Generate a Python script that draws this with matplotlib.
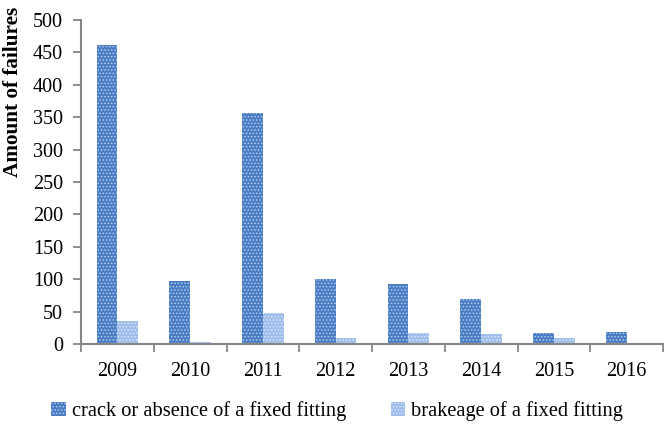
import numpy as np
import matplotlib.pyplot as plt

years = ['2009', '2010', '2011', '2012', '2013', '2014', '2015', '2016']
crack = [462, 97, 357, 100, 93, 69, 17, 19]
brakeage = [35, 3, 48, 10, 17, 16, 10, 2]

plt.rcParams['font.family'] = ['Liberation Serif', 'DejaVu Serif']
plt.rcParams['hatch.linewidth'] = 0.7

fig = plt.figure(figsize=(6.64, 4.25), dpi=100)
ax = fig.add_axes([81 / 664, 81 / 425, 582 / 664, 324 / 425])

x = np.arange(len(years))
w = 0.285
ax.bar(x - w / 2, crack, w, color='#4a7cc4', edgecolor='#b3cbef', linewidth=0,
       hatch='.....', label='crack or absence of a fixed fitting')
ax.bar(x + w / 2, brakeage, w, color='#9dbdeb', edgecolor='#dde8f8', linewidth=0,
       hatch='.....', label='brakeage of a fixed fitting')

ax.set_xlim(-0.5, len(years) - 0.5)
ax.set_ylim(0, 500)
ax.set_yticks(range(0, 501, 50))
ax.set_xticks(np.arange(-0.5, len(years), 1))
ax.set_xticklabels([])
ax.set_xticks(x, minor=True)
ax.set_xticklabels(years, minor=True)
ax.tick_params(axis='x', which='minor', length=0, pad=13, labelsize=14.5)
ax.tick_params(axis='x', which='major', length=6, width=1.3, color='#868686', direction='out')
ax.tick_params(axis='y', length=6, width=1.3, color='#868686', labelsize=14.5, pad=7)

for s in ['top', 'right']:
    ax.spines[s].set_visible(False)
for s in ['left', 'bottom']:
    ax.spines[s].set_color('#868686')
    ax.spines[s].set_linewidth(1.5)

ax.set_ylabel('Amount of failures', fontsize=15.3, fontweight='bold')
ax.yaxis.set_label_coords(-0.10, 0.778)

fig.legend(*ax.get_legend_handles_labels(), loc='center', bbox_to_anchor=(0.508, 0.033),
           ncol=2, frameon=False, fontsize=14.7, handlelength=0.7, handleheight=0.7,
           handletextpad=0.3, columnspacing=2.2)

fig.savefig('out.png', dpi=100)
